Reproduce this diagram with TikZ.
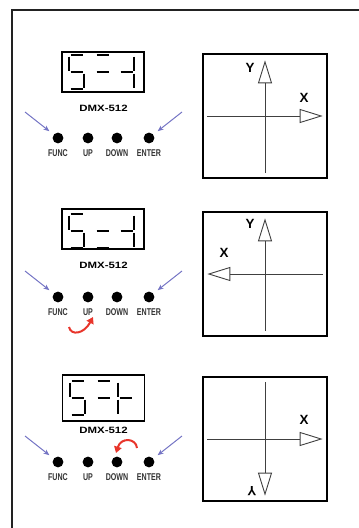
\documentclass[tikz,border=0pt]{standalone}
\usepackage{fontspec}
\setmainfont{Liberation Sans}
\newfontfamily\condfont[FakeStretch=0.72]{Liberation Sans}
\newfontfamily\widefont[FakeStretch=1.25]{Liberation Sans}
\usepackage{tikz}
\usetikzlibrary{arrows.meta,positioning,calc}
\usepackage{xcolor}
\definecolor{frameink}{HTML}{222222}
\definecolor{pointer}{HTML}{7474C4}
\definecolor{turnred}{HTML}{E8352B}
\tikzset{
  frame/.style={draw=frameink,line width=1mm},
  display/.style={draw=black,line width=0.9mm,minimum width=41mm,minimum height=20mm,inner sep=0pt},
  segment/.style={draw=black,line width=1mm},
  button/.style={circle,fill=black,minimum size=5.4mm,inner sep=0pt},
  btnlabel/.style={font=\condfont\bfseries\fontsize{14}{14}\selectfont,inner sep=0pt,text=black!80},
  maker/.style={font=\widefont\bfseries\fontsize{13}{13}\selectfont,inner sep=0pt},
  press/.style={-{Stealth[length=3mm,width=2.4mm]},draw=pointer,line width=0.5mm,shorten >=2.7mm},
  turn/.style={-{Triangle[length=3.2mm,width=3.8mm]},draw=turnred,line width=1mm},
  axbox/.style={draw=black,line width=0.65mm,minimum size=62mm,inner sep=0pt},
  axis/.style={-{Triangle[open,length=11.5mm,width=7mm,fill=white]},draw=black!75,line width=0.45mm},
  axlabel/.style={font=\bfseries\fontsize{19}{19}\selectfont,inner sep=0pt},
  digit/.pic={
    \coordinate (sega1) at (1.5,0);   \coordinate (sega2) at (13.5,0);
    \coordinate (segb1) at (15,1.5);  \coordinate (segb2) at (15,15.5);
    \coordinate (segc1) at (15,18.5); \coordinate (segc2) at (15,32.5);
    \coordinate (segd1) at (1.5,34);  \coordinate (segd2) at (13.5,34);
    \coordinate (sege1) at (0,18.5);  \coordinate (sege2) at (0,32.5);
    \coordinate (segf1) at (0,1.5);   \coordinate (segf2) at (0,15.5);
    \coordinate (segg1) at (1.5,17);  \coordinate (segg2) at (13.5,17);
    \foreach \s in {#1} \draw[segment] (seg\s1) -- (seg\s2);
  }
}

\begin{document}
\begin{tikzpicture}[x=0.5mm,y=-0.5mm]
  \useasboundingbox (0,0) rectangle (359,528);
  \draw[frame] (12,528) -- (12,9.5) -- (359,9.5);

  \node[display] (d1) at (103,72) {};
  \node[display] (d2) at (103,229) {};
  \node[display,minimum height=23mm] (d3) at (103.5,398) {};
  \pic at (69,55) {digit={a,f,g,c,d}};
  \pic at (95,55) {digit={a,g}};
  \pic at (119,55) {digit={g,b,c}};
  \pic at (69,214) {digit={a,f,g,c,d}};
  \pic at (95,214) {digit={g,d}};
  \pic at (119,214) {digit={g,b,c}};
  \pic at (70,381) {digit={a,f,g,c,d}};
  \pic at (96,381) {digit={a,g}};
  \pic at (118,381) {digit={f,e,g}};
  \node[maker] (m1) at (103.5,108) {DMX-512};
  \node[maker] (m2) at (103.5,265) {DMX-512};
  \node[maker] (m3) at (103.5,430) {DMX-512};

  \foreach \p/\y in {1/138,2/297,3/462}{
    \node[button] (f\p) at (58,\y) {};
    \node[button] (u\p) at (88,\y) {};
    \node[button] (n\p) at (117,\y) {};
    \node[button] (e\p) at (149,\y) {};
    \node[btnlabel,below=2.8mm of f\p] (lf\p) {FUNC};
    \node[btnlabel,below=2.8mm of u\p] (lu\p) {UP};
    \node[btnlabel,below=2.8mm of n\p] (ln\p) {DOWN};
    \node[btnlabel,below=2.8mm of e\p] (le\p) {ENTER};
    \coordinate (fa\p) at (25,\y-26);
    \coordinate (ea\p) at (182,\y-26);
    \draw[press] (fa\p) -- (f\p);
    \draw[press] (ea\p) -- (e\p);
  }

  \coordinate (ts) at (69,327);
  \coordinate (te) at (93,317);
  \draw[turn] (ts) .. controls (71,336) and (84,334) .. (te);
  \coordinate (ds) at (137,448);
  \coordinate (de) at (116,453);
  \draw[turn] (ds) .. controls (136,438) and (121,437) .. (de);

  \node[axbox] (x1) at (265,116) {};
  \draw[axis] ([xshift=2.5mm]x1.west) -- ([xshift=-2.5mm]x1.east);
  \draw[axis] ([yshift=3mm]x1.south) -- ([yshift=-3.5mm]x1.north);
  \node[axlabel] (yl1) at (250,68) {Y};
  \node[axlabel] (xl1) at (304,98) {X};

  \node[axbox] (x2) at (265,274) {};
  \draw[axis] ([xshift=-2.5mm]x2.east) -- ([xshift=2.5mm]x2.west);
  \draw[axis] ([yshift=3mm]x2.south) -- ([yshift=-3.5mm]x2.north);
  \node[axlabel] (yl2) at (250,224) {Y};
  \node[axlabel] (xl2) at (224,253) {X};

  \node[axbox] (x3) at (265,439) {};
  \draw[axis] ([xshift=2.5mm]x3.west) -- ([xshift=-2.5mm]x3.east);
  \draw[axis] ([yshift=-3mm]x3.north) -- ([yshift=3mm]x3.south);
  \node[axlabel] (xl3) at (304,420) {X};
  \node[axlabel,rotate=180] (yl3) at (252,491) {Y};
\end{tikzpicture}
\end{document}
